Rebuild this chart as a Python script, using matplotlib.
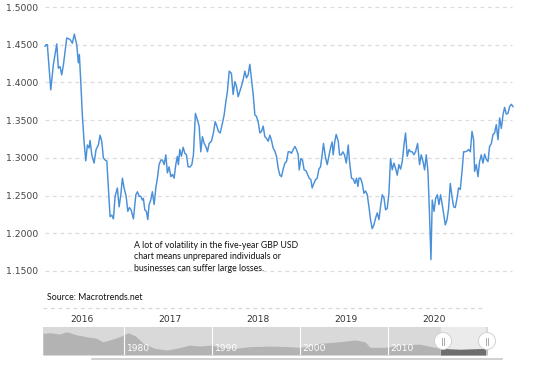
import matplotlib
matplotlib.use("Agg")
import matplotlib.pyplot as plt
from matplotlib.patches import Rectangle, Circle
from matplotlib.lines import Line2D

# ---------------- data ----------------
years = [2016.096, 2016.107, 2016.121, 2016.158, 2016.185, 2016.222, 2016.239, 2016.257, 2016.275, 2016.293,
         2016.329, 2016.364, 2016.389, 2016.410, 2016.436, 2016.453, 2016.464, 2016.479, 2016.496, 2016.514,
         2016.533, 2016.550, 2016.568, 2016.579, 2016.597, 2016.622, 2016.643, 2016.668, 2016.686, 2016.704,
         2016.721, 2016.740, 2016.758, 2016.775, 2016.793, 2016.811, 2016.829, 2016.847, 2016.871, 2016.890,
         2016.908, 2016.925, 2016.943, 2016.965, 2016.983, 2017.000, 2017.018, 2017.043, 2017.069, 2017.086,
         2017.104, 2017.122, 2017.139, 2017.150, 2017.165, 2017.182, 2017.197, 2017.211, 2017.229, 2017.246,
         2017.265, 2017.283, 2017.300, 2017.318, 2017.337, 2017.354, 2017.372, 2017.390, 2017.407, 2017.425,
         2017.444, 2017.461, 2017.479, 2017.497, 2017.514, 2017.525, 2017.540, 2017.557, 2017.576, 2017.594,
         2017.611, 2017.629, 2017.651, 2017.669, 2017.686, 2017.707, 2017.729, 2017.747, 2017.765, 2017.782,
         2017.801, 2017.819, 2017.836, 2017.854, 2017.879, 2017.900, 2017.919, 2017.937, 2017.954, 2017.972,
         2017.997, 2018.015, 2018.036, 2018.050, 2018.069, 2018.093, 2018.111, 2018.130, 2018.147, 2018.165,
         2018.183, 2018.200, 2018.219, 2018.237, 2018.254, 2018.272, 2018.290, 2018.308, 2018.326, 2018.344,
         2018.361, 2018.379, 2018.398, 2018.415, 2018.433, 2018.451, 2018.468, 2018.487, 2018.505, 2018.522,
         2018.540, 2018.558, 2018.576, 2018.594, 2018.612, 2018.629, 2018.647, 2018.666, 2018.683, 2018.701,
         2018.719, 2018.736, 2018.755, 2018.773, 2018.790, 2018.808, 2018.819, 2018.837, 2018.854, 2018.872,
         2018.891, 2018.908, 2018.926, 2018.944, 2018.958, 2018.976, 2018.994, 2019.012, 2019.030, 2019.047,
         2019.065, 2019.079, 2019.101, 2019.119, 2019.137, 2019.154, 2019.172, 2019.183, 2019.201, 2019.215,
         2019.237, 2019.251, 2019.269, 2019.287, 2019.304, 2019.323, 2019.344, 2019.358, 2019.379, 2019.398,
         2019.416, 2019.433, 2019.448, 2019.459, 2019.476, 2019.494, 2019.512, 2019.529, 2019.548, 2019.566,
         2019.583, 2019.601, 2019.619, 2019.637, 2019.655, 2019.673, 2019.690, 2019.708, 2019.727, 2019.744,
         2019.762, 2019.780, 2019.797, 2019.816, 2019.834, 2019.851, 2019.869, 2019.887, 2019.905, 2019.923,
         2019.941, 2019.958, 2019.976, 2019.995, 2020.012, 2020.030, 2020.048, 2020.065, 2020.087, 2020.108,
         2020.126, 2020.145, 2020.162, 2020.180, 2020.198, 2020.215, 2020.230, 2020.244, 2020.263, 2020.280,
         2020.298, 2020.316, 2020.333, 2020.351, 2020.370, 2020.384, 2020.402, 2020.419, 2020.437, 2020.455,
         2020.473, 2020.491, 2020.509, 2020.526, 2020.544, 2020.563, 2020.580, 2020.598, 2020.616, 2020.633,
         2020.652, 2020.670, 2020.687, 2020.698, 2020.716, 2020.734, 2020.751, 2020.769, 2020.788, 2020.805,
         2020.823, 2020.841, 2020.858, 2020.877, 2020.895, 2020.912, 2020.930, 2020.948, 2020.966, 2020.984,
         2021.002, 2021.019, 2021.037, 2021.055, 2021.073, 2021.091, 2021.109]

gbp_usd = [1.448, 1.450, 1.450, 1.390, 1.423, 1.451, 1.419, 1.421, 1.410, 1.423,
           1.459, 1.457, 1.452, 1.464, 1.450, 1.426, 1.437, 1.401, 1.357, 1.322,
           1.296, 1.317, 1.313, 1.323, 1.304, 1.293, 1.311, 1.317, 1.330, 1.322,
           1.300, 1.297, 1.296, 1.260, 1.222, 1.224, 1.219, 1.249, 1.260, 1.235,
           1.251, 1.273, 1.260, 1.249, 1.229, 1.234, 1.231, 1.219, 1.251, 1.255,
           1.249, 1.249, 1.244, 1.246, 1.231, 1.229, 1.218, 1.238, 1.244, 1.255,
           1.238, 1.260, 1.273, 1.291, 1.297, 1.297, 1.291, 1.304, 1.280, 1.288,
           1.275, 1.278, 1.273, 1.291, 1.302, 1.291, 1.311, 1.302, 1.314, 1.306,
           1.304, 1.288, 1.288, 1.291, 1.304, 1.359, 1.350, 1.342, 1.308, 1.328,
           1.319, 1.315, 1.308, 1.319, 1.322, 1.333, 1.348, 1.342, 1.335, 1.333,
           1.346, 1.357, 1.377, 1.388, 1.415, 1.412, 1.384, 1.401, 1.395, 1.381,
           1.388, 1.395, 1.404, 1.415, 1.406, 1.410, 1.424, 1.404, 1.384, 1.357,
           1.355, 1.348, 1.333, 1.335, 1.342, 1.328, 1.326, 1.322, 1.330, 1.323,
           1.313, 1.309, 1.302, 1.286, 1.277, 1.275, 1.285, 1.293, 1.295, 1.308,
           1.308, 1.306, 1.311, 1.315, 1.311, 1.304, 1.284, 1.299, 1.297, 1.284,
           1.283, 1.278, 1.273, 1.271, 1.260, 1.266, 1.271, 1.273, 1.285, 1.288,
           1.304, 1.319, 1.300, 1.291, 1.302, 1.313, 1.321, 1.304, 1.322, 1.331,
           1.322, 1.304, 1.304, 1.308, 1.304, 1.293, 1.317, 1.295, 1.273, 1.272,
           1.266, 1.273, 1.262, 1.273, 1.273, 1.266, 1.253, 1.256, 1.251, 1.235,
           1.218, 1.206, 1.211, 1.220, 1.227, 1.218, 1.235, 1.251, 1.247, 1.231,
           1.233, 1.253, 1.299, 1.284, 1.293, 1.286, 1.277, 1.291, 1.285, 1.295,
           1.317, 1.333, 1.302, 1.311, 1.308, 1.308, 1.304, 1.308, 1.319, 1.291,
           1.304, 1.295, 1.284, 1.304, 1.282, 1.224, 1.165, 1.244, 1.229, 1.246,
           1.251, 1.238, 1.251, 1.238, 1.222, 1.211, 1.218, 1.233, 1.266, 1.249,
           1.235, 1.234, 1.246, 1.260, 1.258, 1.282, 1.308, 1.308, 1.309, 1.311,
           1.308, 1.335, 1.324, 1.282, 1.291, 1.275, 1.295, 1.304, 1.293, 1.305,
           1.298, 1.295, 1.315, 1.319, 1.331, 1.333, 1.344, 1.324, 1.353, 1.339,
           1.357, 1.367, 1.358, 1.359, 1.368, 1.371, 1.368]

y_ticks = [1.15, 1.20, 1.25, 1.30, 1.35, 1.40, 1.45, 1.50]
year_labels = ["2016", "2017", "2018", "2019", "2020"]
year_label_pos = [2016.493, 2017.436, 2018.379, 2019.323, 2020.266]

# navigator (long history overview)
nav_years = [1970.8, 1971.6, 1972.7, 1973.5, 1974.7, 1975.8, 1976.9, 1977.6, 1978.4, 1979.5,
             1980.5, 1981.3, 1982.2, 1983.5, 1984.9, 1986.0, 1987.5, 1988.6, 1989.9, 1990.9,
             1992.6, 1994.3, 1996.6, 1998.9, 2000.0, 2001.1, 2002.3, 2004.5, 2006.3, 2007.4,
             2008.0, 2009.7, 2011.4, 2013.6, 2015.9, 2018.2, 2021.3]
nav_values = [2.19, 2.23, 2.15, 2.29, 2.09, 1.98, 1.88, 1.67, 1.78, 1.98,
              2.23, 2.03, 1.57, 1.26, 1.15, 1.26, 1.46, 1.40, 1.46, 1.36,
              1.26, 1.36, 1.40, 1.36, 1.32, 1.40, 1.57, 1.67, 1.78, 1.67,
              1.32, 1.32, 1.46, 1.52, 1.26, 1.20, 1.26]
nav_decades = [1980, 1990, 2000, 2010]
sel_start, sel_end = 2016.1, 2021.1

annotation = ["A lot of volatility in the five-year GBP USD",
              "chart means unprepared individuals or",
              "businesses can suffer large losses."]
source = "Source: Macrotrends.net"

# ---------------- figure ----------------
W, H = 551, 368
fig = plt.figure(figsize=(W / 100, H / 100), dpi=100)
fig.patch.set_facecolor("white")

def fx(px):
    return px / W

def fy(py):
    return 1 - py / H

ax = fig.add_axes([fx(45), fy(308), fx(513) - fx(45), fy(5) - fy(308)])
ax.set_xlim(2016.096, 2021.109)
ax.set_ylim(1.1008, 1.5027)
ax.plot(years, gbp_usd, color="#4a90d9", lw=1.05, clip_on=False, zorder=3)
for v in y_ticks:
    ax.axhline(v, xmax=(512 - 45) / (513 - 45), color="#dcdcdc", lw=0.9,
               ls=(0, (3, 3)), zorder=1)
for s in ax.spines.values():
    s.set_visible(False)
ax.set_yticks(y_ticks)
ax.set_yticklabels([f"{v:.4f}" for v in y_ticks])
ax.tick_params(axis="y", length=0, pad=5, labelsize=6.7, labelcolor="#444444")
ax.set_xticks(year_label_pos)
ax.set_xticklabels(year_labels)
ax.tick_params(axis="x", length=0, pad=5, labelsize=6.6, labelcolor="#333333")

# bottom dashed line
fig.add_artist(Line2D([fx(43), fx(485)], [fy(308), fy(308)], color="#d6d6d6",
                      lw=0.9, ls=(0, (3, 3))))

# annotation text
for i, line in enumerate(annotation):
    fig.text(fx(134), fy(245.5 + i * 11.3), line, fontsize=6.3, family="Lato",
             color="#111111", va="center", ha="left")
fig.text(fx(47), fy(297), source, fontsize=6.3, family="Lato",
         color="#111111", va="center", ha="left")

# navigator
nav = fig.add_axes([fx(43), fy(355), fx(488) - fx(43), fy(327) - fy(355)])
nav.set_xlim(1970.8, 2021.4)
nav.set_ylim(0.84, 2.59)
nav.set_facecolor("#d9d9d9")
nav.fill_between(nav_years, 0.84, nav_values, color="#b3b3b3", lw=0, zorder=1)
nav.axvspan(sel_start, sel_end, color="#ebebeb", zorder=1.1)
dark = nav.fill_between(nav_years, 0.84, nav_values, color="#6e6e6e", lw=0, zorder=1.2)
clip_rect = Rectangle((sel_start, 0.84), sel_end - sel_start, 2.0,
                      transform=nav.transData, visible=False)
nav.add_patch(clip_rect)
dark.set_clip_path(clip_rect)
for d in nav_decades:
    nav.axvline(d, color="white", lw=0.8, zorder=2)
    nav.text(d + 0.3, 0.95, str(d), color="white", fontsize=6.6, va="bottom",
             ha="left", zorder=3)
nav.set_xticks([])
nav.set_yticks([])
for s in nav.spines.values():
    s.set_visible(False)
# handles drawn in figure pixels
for px in (443, 487):
    fig.add_artist(Circle((px, H - 341), 8.5, transform=None, facecolor="white",
                          edgecolor="#cccccc", lw=0.6, zorder=5))
    for dx in (-1.2, 1.2):
        fig.add_artist(Line2D([px + dx, px + dx], [H - 344.5, H - 337.5],
                              transform=None, color="#aaaaaa", lw=0.7, zorder=6))

# scrollbar line
fig.add_artist(Line2D([fx(92), fx(502)], [fy(359), fy(359)], color="#c8c8c8", lw=1.2))

fig.savefig("out.png", dpi=100)
